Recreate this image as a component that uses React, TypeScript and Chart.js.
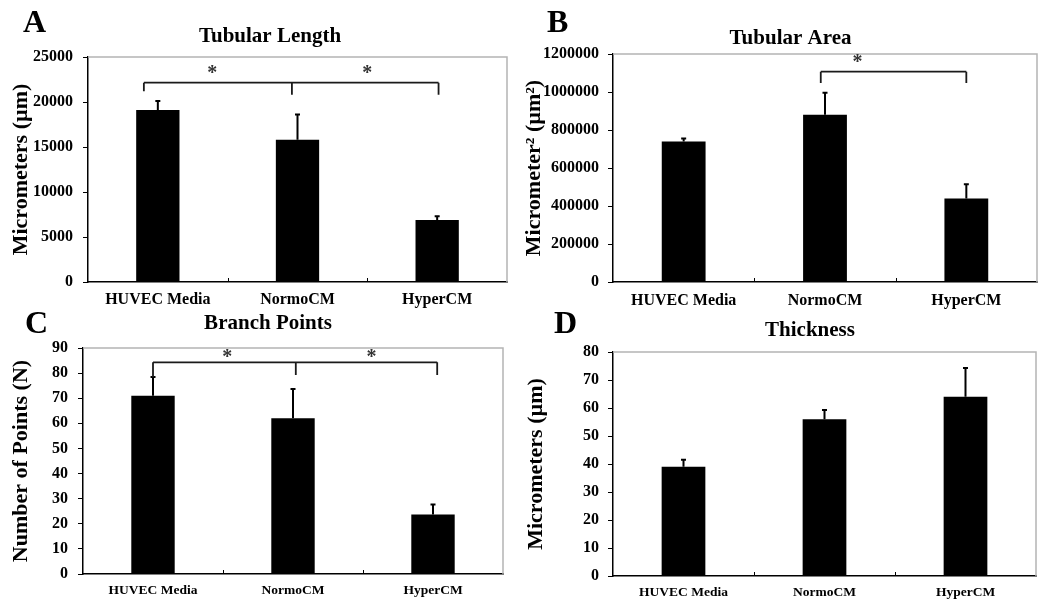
import React, { useEffect, useRef } from "react";
import { Chart, registerables } from "chart.js";

Chart.register(...registerables);

const FONT = '"Liberation Serif", "Times New Roman", serif';

const categories = ["HUVEC Media", "NormoCM", "HyperCM"];

// Panel A: Tubular Length
const lengthMeans = [19100, 15800, 6900];
const lengthErrors = [1000, 2800, 400];
const lengthTickMax = 25000;
const lengthTickStep = 5000;
const lengthBracketX = [-0.1, 0.96, 2.01];
const lengthBracketTop = 22150;
const lengthBracketEnds = [21200, 20800, 20800];
const lengthStarX = [0.39, 1.5];
const lengthStarY = 23700;

// Panel B: Tubular Area
const areaMeans = [740000, 880000, 440000];
const areaErrors = [15000, 116000, 75000];
const areaTickMax = 1200000;
const areaTickStep = 200000;
const areaBracketX = [0.97, 2.0];
const areaBracketTop = 1107000;
const areaBracketEnds = [1047000, 1047000];
const areaStarX = [1.23];
const areaStarY = 1179000;

// Panel C: Branch Points
const branchMeans = [71, 62, 23.7];
const branchErrors = [7.5, 11.7, 4];
const branchTickMax = 90;
const branchTickStep = 10;
const branchBracketX = [0, 1.02, 2.03];
const branchBracketTop = 84.3;
const branchBracketEnds = [78.5, 79.2, 79.2];
const branchStarX = [0.53, 1.56];
const branchStarY = 88;

// Panel D: Thickness
const thicknessMeans = [39, 56, 64];
const thicknessErrors = [2.5, 3.3, 10.3];
const thicknessTickMax = 80;
const thicknessTickStep = 10;

type PanelCfg = {
  left: number;
  top: number;
  w: number;
  h: number;
  area: { l: number; r: number; t: number; b: number };
  means: number[];
  errors: number[];
  max: number;
  step: number;
  yTitle: string;
  yTitleX: number;
  title: string;
  titleX: number;
  titleY: number;
  letter: string;
  letterX: number;
  letterY: number;
  xFont: number;
  xPad: number;
  yPad: number;
  bracketX?: number[];
  bracketTop?: number;
  bracketEnds?: number[];
  starX?: number[];
  starY?: number;
};

const panels: PanelCfg[] = [
  {
    left: 0, top: 0, w: 519, h: 310,
    area: { l: 88, r: 507, t: 57, b: 282 },
    means: lengthMeans, errors: lengthErrors, max: lengthTickMax, step: lengthTickStep,
    yTitle: "Micrometers (µm)", yTitleX: 21,
    title: "Tubular Length", titleX: 270, titleY: 42,
    letter: "A", letterX: 23, letterY: 32,
    xFont: 16, xPad: 8, yPad: 10,
    bracketX: lengthBracketX, bracketTop: lengthBracketTop, bracketEnds: lengthBracketEnds,
    starX: lengthStarX, starY: lengthStarY,
  },
  {
    left: 519, top: 0, w: 520, h: 310,
    area: { l: 94, r: 518, t: 54, b: 282 },
    means: areaMeans, errors: areaErrors, max: areaTickMax, step: areaTickStep,
    yTitle: "Micrometer² (µm²)", yTitleX: 15,
    title: "Tubular Area", titleX: 271.5, titleY: 44,
    letter: "B", letterX: 28, letterY: 32,
    xFont: 16, xPad: 9, yPad: 9,
    bracketX: areaBracketX, bracketTop: areaBracketTop, bracketEnds: areaBracketEnds,
    starX: areaStarX, starY: areaStarY,
  },
  {
    left: 0, top: 300, w: 519, h: 306,
    area: { l: 83, r: 503, t: 48, b: 274 },
    means: branchMeans, errors: branchErrors, max: branchTickMax, step: branchTickStep,
    yTitle: "Number of Points (N)", yTitleX: 21,
    title: "Branch Points", titleX: 268, titleY: 29,
    letter: "C", letterX: 25, letterY: 33,
    xFont: 13.5, xPad: 8, yPad: 10,
    bracketX: branchBracketX, bracketTop: branchBracketTop, bracketEnds: branchBracketEnds,
    starX: branchStarX, starY: branchStarY,
  },
  {
    left: 519, top: 300, w: 520, h: 306,
    area: { l: 94, r: 517, t: 52, b: 276 },
    means: thicknessMeans, errors: thicknessErrors, max: thicknessTickMax, step: thicknessTickStep,
    yTitle: "Micrometers (µm)", yTitleX: 17,
    title: "Thickness", titleX: 291, titleY: 36,
    letter: "D", letterX: 35, letterY: 33,
    xFont: 13.5, xPad: 8, yPad: 9,
  },
];

function Panel({ cfg }: { cfg: PanelCfg }) {
  const ref = useRef<HTMLCanvasElement>(null);

  useEffect(() => {
    const canvas = ref.current;
    if (!canvas) return;

    const catPixel = (chart: any, pos: number) => {
      const xs = chart.scales.x;
      const p0 = xs.getPixelForValue(0);
      const p1 = xs.getPixelForValue(1);
      return p0 + (p1 - p0) * pos;
    };

    const decor = {
      id: "decor",
      beforeDatasetsDraw(chart: any) {
        const { ctx, chartArea } = chart;
        ctx.save();
        ctx.strokeStyle = "#b4b4b4";
        ctx.lineWidth = 1.5;
        ctx.beginPath();
        ctx.moveTo(chartArea.left, chartArea.top);
        ctx.lineTo(chartArea.right, chartArea.top);
        ctx.lineTo(chartArea.right, chartArea.bottom);
        ctx.stroke();
        ctx.strokeStyle = "#000";
        ctx.lineWidth = 1;
        for (let i = 0; i < categories.length - 1; i++) {
          const x = Math.round(catPixel(chart, i + 0.5)) + 0.5;
          ctx.beginPath();
          ctx.moveTo(x, chartArea.bottom);
          ctx.lineTo(x, chartArea.bottom - 4);
          ctx.stroke();
        }
        ctx.restore();
      },
      afterDatasetsDraw(chart: any) {
        const { ctx } = chart;
        const ys = chart.scales.y;
        const meta = chart.getDatasetMeta(0);
        ctx.save();
        ctx.strokeStyle = "#000";
        ctx.lineWidth = 2;
        meta.data.forEach((el: any, i: number) => {
          const yTop = ys.getPixelForValue(cfg.means[i] + cfg.errors[i]);
          ctx.beginPath();
          ctx.moveTo(el.x, el.y);
          ctx.lineTo(el.x, yTop);
          ctx.moveTo(el.x - 2.5, yTop);
          ctx.lineTo(el.x + 2.5, yTop);
          ctx.stroke();
        });
        if (cfg.bracketX && cfg.bracketEnds && cfg.bracketTop !== undefined) {
          const yb = ys.getPixelForValue(cfg.bracketTop);
          const xs = cfg.bracketX.map((p) => catPixel(chart, p));
          ctx.strokeStyle = "#1a1a1a";
          ctx.lineWidth = 1.8;
          ctx.beginPath();
          ctx.moveTo(xs[0], yb);
          ctx.lineTo(xs[xs.length - 1], yb);
          xs.forEach((x, i) => {
            ctx.moveTo(x, yb);
            ctx.lineTo(x, ys.getPixelForValue(cfg.bracketEnds![i]));
          });
          ctx.stroke();
        }
        if (cfg.starX && cfg.starY !== undefined) {
          ctx.fillStyle = "#333";
          ctx.font = `bold 20px ${FONT}`;
          ctx.textAlign = "center";
          ctx.textBaseline = "alphabetic";
          const sy = ys.getPixelForValue(cfg.starY) + 10;
          cfg.starX.forEach((p) => ctx.fillText("*", catPixel(chart, p), sy));
        }
        ctx.restore();
      },
      afterDraw(chart: any) {
        const { ctx } = chart;
        ctx.save();
        ctx.fillStyle = "#000";
        ctx.textBaseline = "alphabetic";
        ctx.textAlign = "center";
        ctx.font = `bold 21px ${FONT}`;
        ctx.fillText(cfg.title, cfg.titleX, cfg.titleY);
        ctx.textAlign = "left";
        ctx.font = `bold 32px ${FONT}`;
        ctx.fillText(cfg.letter, cfg.letterX, cfg.letterY);
        ctx.restore();
      },
    };

    const yTitleSize = 22;
    const chart = new Chart(canvas, {
      type: "bar",
      data: {
        labels: categories,
        datasets: [
          {
            data: cfg.means,
            backgroundColor: "#000",
            borderWidth: 0,
            barPercentage: 0.31,
            categoryPercentage: 1,
          },
        ],
      },
      options: {
        animation: false,
        responsive: false,
        devicePixelRatio: 1,
        layout: {
          padding: { left: 0, top: cfg.area.t, right: cfg.w - cfg.area.r, bottom: 0 },
        },
        plugins: {
          legend: { display: false },
          tooltip: { enabled: false },
          title: { display: false },
        },
        scales: {
          x: {
            type: "category",
            offset: true,
            grid: { display: false, drawTicks: false },
            border: { display: true, color: "#000", width: 1.5 },
            ticks: {
              color: "#000",
              padding: cfg.xPad,
              font: { family: FONT, size: cfg.xFont, weight: "bold" },
              maxRotation: 0,
              autoSkip: false,
            },
            afterFit: (scale: any) => {
              scale.height = cfg.h - cfg.area.b;
            },
          },
          y: {
            min: 0,
            max: cfg.max,
            grid: {
              display: true,
              drawOnChartArea: false,
              drawTicks: true,
              tickLength: 5,
              color: "#000",
              lineWidth: 1,
            },
            border: { display: true, color: "#000", width: 1.5 },
            ticks: {
              stepSize: cfg.step,
              color: "#000",
              padding: cfg.yPad,
              font: { family: FONT, size: 16, weight: "bold" },
              callback: (v: any) => String(v),
            },
            title: {
              display: true,
              text: cfg.yTitle,
              color: "#000",
              font: { family: FONT, size: yTitleSize, weight: "bold", lineHeight: 1.2 },
              padding: { top: cfg.yTitleX - (yTitleSize * 1.2) / 2, bottom: 0 },
            },
            afterFit: (scale: any) => {
              scale.width = cfg.area.l;
            },
          },
        },
      },
      plugins: [decor],
    } as any);

    return () => chart.destroy();
  }, [cfg]);

  return (
    <canvas
      ref={ref}
      width={cfg.w}
      height={cfg.h}
      style={{ position: "absolute", left: cfg.left, top: cfg.top, width: cfg.w, height: cfg.h }}
    />
  );
}

export default function App() {
  return (
    <div
      style={{
        position: "absolute",
        left: 0,
        top: 0,
        width: 1039,
        height: 606,
        background: "#fff",
        overflow: "hidden",
      }}
    >
      {panels.map((p) => (
        <Panel key={p.letter} cfg={p} />
      ))}
    </div>
  );
}
